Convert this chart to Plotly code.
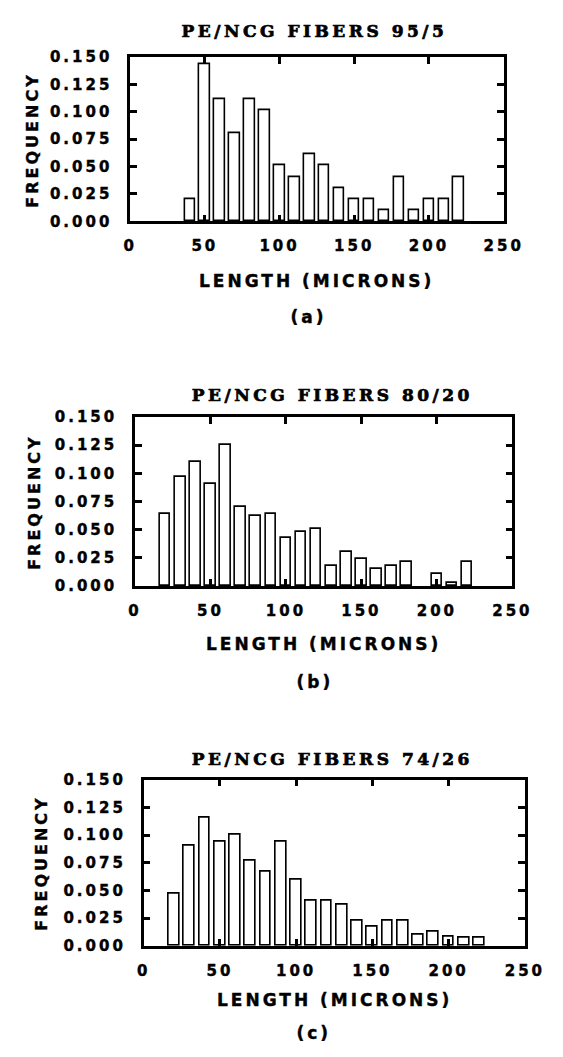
import plotly.graph_objects as go

# ---------------- data ----------------
titles = ["PE/NCG FIBERS 95/5", "PE/NCG FIBERS 80/20", "PE/NCG FIBERS 74/26"]
panel_labels = ["(a)", "(b)", "(c)"]
x_title = "LENGTH (MICRONS)"
y_title = "FREQUENCY"

lengths_a = [40, 50, 60, 70, 80, 90, 100, 110, 120, 130, 140, 150, 160, 170, 180, 190, 200, 210, 220]
freq_a = [0.020, 0.144, 0.112, 0.081, 0.112, 0.102, 0.051, 0.040, 0.061, 0.051,
          0.030, 0.020, 0.020, 0.010, 0.040, 0.010, 0.020, 0.020, 0.040]

lengths_b = [20, 30, 40, 50, 60, 70, 80, 90, 100, 110, 120, 130, 140, 150, 160, 170, 180, 200, 210, 220]
freq_b = [0.064, 0.097, 0.110, 0.091, 0.125, 0.070, 0.062, 0.064, 0.043, 0.048,
          0.051, 0.018, 0.030, 0.024, 0.015, 0.018, 0.021, 0.011, 0.003, 0.021]

lengths_c = [20, 30, 40, 50, 60, 70, 80, 90, 100, 110, 120, 130, 140, 150, 160, 170, 180, 190, 200, 210, 220]
freq_c = [0.047, 0.090, 0.116, 0.094, 0.100, 0.077, 0.067, 0.094, 0.060, 0.041,
          0.041, 0.037, 0.023, 0.017, 0.023, 0.023, 0.010, 0.013, 0.008, 0.007, 0.007]

x_tickvals = [0, 50, 100, 150, 200, 250]
y_tickvals = [0.0, 0.025, 0.05, 0.075, 0.1, 0.125, 0.15]

# ---------------- layout geometry (pixels) ----------------
W, H = 563, 1057
def fx(px):
    return px / W
def fy(py):
    return 1 - py / H

panels = [
    dict(x=lengths_a, y=freq_a, box=(130, 518, 49, 216), title_y=22, title_x=322,
         tick_y=237, xt_y=277, lab_y=313, lab_x=315, yt_x=28),
    dict(x=lengths_b, y=freq_b, box=(135, 527, 415, 587), title_y=393, title_x=340,
         tick_y=608, xt_y=646, lab_y=685, lab_x=322, yt_x=31),
    dict(x=lengths_c, y=freq_c, box=(144, 540, 784, 953), title_y=763, title_x=340,
         tick_y=975, xt_y=1008, lab_y=1042, lab_x=321, yt_x=38),
]

SANS = "DejaVu Sans"
SERIF = "DejaVu Serif"
BLACK = "#000000"

fig = go.Figure()
annotations = []
layout_axes = {}

for i, p in enumerate(panels):
    n = "" if i == 0 else str(i + 1)
    xa, ya = "x" + n, "y" + n
    x0, x1, y0, y1 = p["box"]
    fig.add_trace(go.Bar(
        x=p["x"], y=p["y"], width=7,
        marker=dict(color="white", line=dict(color=BLACK, width=1.6)),
        xaxis=xa, yaxis=ya, showlegend=False, hoverinfo="x+y",
    ))
    layout_axes["xaxis" + n] = dict(
        domain=[fx(x0), fx(x1)], anchor=ya, range=[0, 250],
        tickvals=x_tickvals, ticks="inside", ticklen=7, tickwidth=2.5, tickcolor=BLACK,
        showline=True, linewidth=2.5, linecolor=BLACK, mirror="ticks",
        showgrid=False, zeroline=False, ticklabelstandoff=9,
        tickfont=dict(family=SANS, size=15, color=BLACK, weight=700),
    )
    layout_axes["yaxis" + n] = dict(
        domain=[fy(y1), fy(y0)], anchor=xa, range=[0, 0.15],
        tickvals=y_tickvals, tickformat=".3f", ticks="inside", ticklen=7, tickwidth=2.5,
        tickcolor=BLACK, showline=True, linewidth=2.5, linecolor=BLACK, mirror="ticks",
        showgrid=False, zeroline=False, ticklabelstandoff=12,
        tickfont=dict(family=SANS, size=15, color=BLACK, weight=700),
    )
    annotations.append(dict(
        text=titles[i], x=fx(p["title_x"]), y=fy(p["title_y"]), xref="paper", yref="paper",
        xanchor="center", yanchor="middle", showarrow=False,
        font=dict(family=SERIF, size=17, color=BLACK, weight=700),
    ))
    annotations.append(dict(
        text=x_title, x=fx((x0 + x1) / 2), y=fy(p["xt_y"]), xref="paper", yref="paper",
        xanchor="center", yanchor="middle", showarrow=False,
        font=dict(family=SANS, size=17, color=BLACK, weight=700),
    ))
    annotations.append(dict(
        text=panel_labels[i], x=fx(p["lab_x"]), y=fy(p["lab_y"]), xref="paper", yref="paper",
        xanchor="center", yanchor="middle", showarrow=False,
        font=dict(family=SANS, size=17, color=BLACK, weight=700),
    ))
    annotations.append(dict(
        text=y_title, x=fx(p["yt_x"]), y=fy((y0 + y1) / 2), xref="paper", yref="paper",
        xanchor="center", yanchor="middle", showarrow=False, textangle=-90,
        font=dict(family=SANS, size=16, color=BLACK, weight=700),
    ))

fig.update_layout(
    width=W, height=H, margin=dict(l=0, r=0, t=0, b=0),
    paper_bgcolor="white", plot_bgcolor="white",
    annotations=annotations, bargap=0, **layout_axes,
)

post_script = """
var gd = document.getElementById('{plot_id}');
gd.querySelectorAll('text').forEach(function(t){
  var s = t.textContent || '';
  var isTitle = (s.indexOf('PE/') === 0);
  t.style.letterSpacing = isTitle ? '3.5px' : '3px';
  t.style.stroke = '#000';
  t.style.strokeWidth = isTitle ? '0.7px' : '0.4px';
});
"""

fig.write_html("out.html", post_script=post_script)
